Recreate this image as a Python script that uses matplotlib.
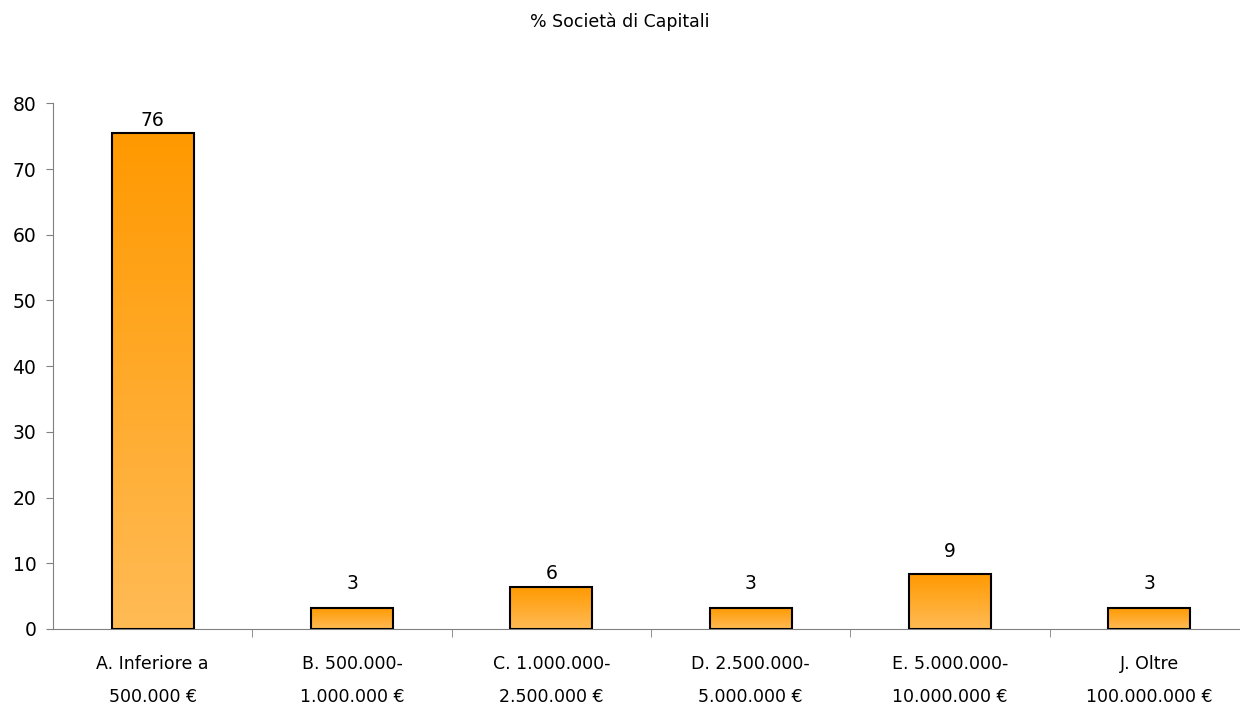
import numpy as np
import matplotlib.pyplot as plt
from matplotlib.colors import LinearSegmentedColormap

categories = ["A. Inferiore a\n500.000 €", "B. 500.000-\n1.000.000 €",
              "C. 1.000.000-\n2.500.000 €", "D. 2.500.000-\n5.000.000 €",
              "E. 5.000.000-\n10.000.000 €", "J. Oltre\n100.000.000 €"]
values = [75.5, 3.2, 6.4, 3.2, 8.4, 3.2]
value_labels = ["76", "3", "6", "3", "9", "3"]
yticks = [0, 10, 20, 30, 40, 50, 60, 70, 80]

plt.rcParams['font.family'] = ['DejaVu Sans']
fig = plt.figure(figsize=(12.4, 7.06), dpi=100)
ax = fig.add_axes([53/1240, 1 - 629/706, 1196/1240, (629 - 103.3)/706])

x = np.arange(len(values))
bars = ax.bar(x, values, width=0.41, facecolor='none', edgecolor='black',
              linewidth=1.5, zorder=3)

# vertical gradient: dark orange on top, light orange at bottom
cmap = LinearSegmentedColormap.from_list('og', ['#FFBB55', '#FF9900'])
grad = np.linspace(0, 1, 256).reshape(-1, 1)
for b in bars:
    x0, w, h = b.get_x(), b.get_width(), b.get_height()
    im = ax.imshow(grad, cmap=cmap, origin='lower', aspect='auto',
                   extent=[x0, x0 + w, 0, h], zorder=2)
    im.set_clip_path(b)

# label offsets in points (as in the source)
offs = [8.6, 17.3, 9.4, 17.3, 15.8, 17.3]
for xi, v, lab, o in zip(x, values, value_labels, offs):
    ax.annotate(lab, (xi, v), xytext=(0, o), textcoords='offset points',
                ha='center', va='center', fontsize=13.5)

ax.set_xlim(-0.5, 5.5)
ax.set_ylim(0, 80)
ax.set_yticks(yticks)
ax.tick_params(axis='y', labelsize=13.5, length=5, color='#808080', pad=7)
ax.set_xticks(x)
ax.set_xticklabels(categories, fontsize=12.5, linespacing=2.05)
ax.set_xticks(np.arange(0.5, 5.5, 1), minor=True)
ax.tick_params(axis='x', which='major', length=0, pad=19)
ax.tick_params(axis='x', which='minor', length=6, color='#808080')
for s in ['top', 'right']:
    ax.spines[s].set_visible(False)
for s in ['left', 'bottom']:
    ax.spines[s].set_color('#808080')

fig.text(0.5, 1 - 22/706, "% Società di Capitali", ha='center', va='center',
         fontsize=12.5)

fig.savefig('out.png', dpi=100)
